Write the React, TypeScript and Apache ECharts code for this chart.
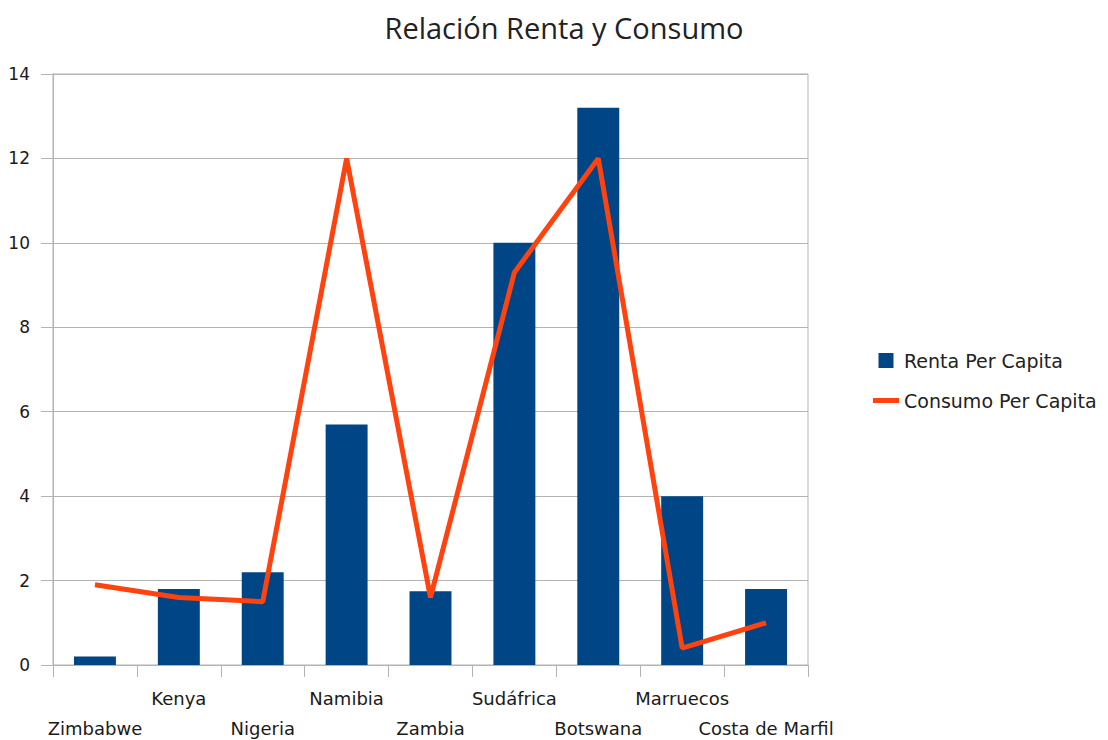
import React, { useEffect, useRef } from "react";
import * as echarts from "echarts";

const categories = [
  "Zimbabwe",
  "Kenya",
  "Nigeria",
  "Namibia",
  "Zambia",
  "Sudáfrica",
  "Botswana",
  "Marruecos",
  "Costa de Marfil",
];
const rentaPerCapita = [0.2, 1.8, 2.2, 5.7, 1.75, 10, 13.2, 4.0, 1.8];
const consumoPerCapita = [1.9, 1.6, 1.5, 12, 1.6, 9.3, 12, 0.4, 1.0];
const yTicks = { min: 0, max: 14, interval: 2 };

export default function App() {
  const ref = useRef<HTMLDivElement>(null);
  useEffect(() => {
    if (!ref.current) return;
    const chart = echarts.init(ref.current, undefined, { renderer: "svg" });
    const gray = "#b3b3b3";
    const font = "'DejaVu Sans', sans-serif";
    chart.setOption({
      animation: false,
      backgroundColor: "#ffffff",
      title: {
        text: "Relación Renta y Consumo",
        left: 559,
        textAlign: "center",
        top: 8,
        textStyle: {
          fontFamily: "'Open Sans', sans-serif",
          fontSize: 29,
          fontWeight: "normal",
          color: "#222222",
        },
      },
      legend: {
        orient: "vertical",
        left: 868,
        top: 346,
        itemGap: 21,
        itemWidth: 26,
        itemHeight: 15,
        textStyle: { fontFamily: font, fontSize: 19, color: "#222222" },
        data: [
          { name: "Renta Per Capita", icon: "path://M0,0h10v10h-10z" },
          { name: "Consumo Per Capita", icon: "path://M0,0h26v5h-26z" },
        ],
      },
      grid: {
        left: 53,
        right: 300,
        top: 74,
        bottom: 75,
        outerBoundsMode: "none",
        containLabel: false,
        show: true,
        borderColor: gray,
        borderWidth: 1,
      },
      xAxis: {
        type: "category",
        data: categories,
        boundaryGap: true,
        axisLine: { show: true, lineStyle: { color: gray } },
        axisTick: { show: true, length: 12, lineStyle: { color: gray } },
        axisLabel: {
          interval: 0,
          margin: 18,
          fontFamily: font,
          fontSize: 18,
          lineHeight: 30,
          color: "#1a1a1a",
          formatter: (v: string, i: number) => (i % 2 === 0 ? "\n" + v : v),
        },
      },
      yAxis: {
        type: "value",
        min: yTicks.min,
        max: yTicks.max,
        interval: yTicks.interval,
        axisLine: { show: true, lineStyle: { color: gray } },
        axisTick: { show: true, length: 12, lineStyle: { color: gray } },
        splitLine: { show: true, lineStyle: { color: gray } },
        axisLabel: {
          margin: 23,
          fontFamily: font,
          fontSize: 17,
          color: "#1a1a1a",
        },
      },
      series: [
        {
          name: "Renta Per Capita",
          type: "bar",
          data: rentaPerCapita,
          barWidth: "50%",
          itemStyle: { color: "#004586" },
        },
        {
          name: "Consumo Per Capita",
          type: "line",
          data: consumoPerCapita,
          symbol: "none",
          lineStyle: { color: "#ff420e", width: 5 },
          itemStyle: { color: "#ff420e" },
          z: 5,
        },
      ],
    });
    return () => chart.dispose();
  }, []);
  return (
    <div
      ref={ref}
      style={{ position: "fixed", left: 0, top: 0, width: 1108, height: 740 }}
    />
  );
}
